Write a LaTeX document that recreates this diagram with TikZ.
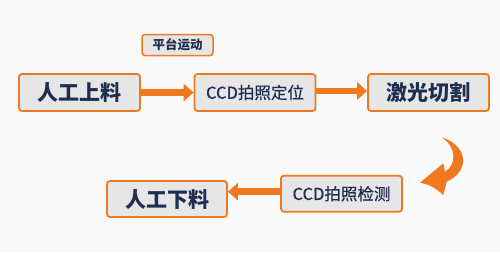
\documentclass[tikz,border=0pt]{standalone}
\usepackage{fontspec}
\newfontfamily\cjk{Noto Sans CJK SC}
\newfontfamily\cjkmid[FakeBold=0.5]{Noto Sans CJK SC}
\usetikzlibrary{arrows.meta}
\definecolor{bgc}{RGB}{249,249,249}
\definecolor{boxfill}{RGB}{231,230,230}
\definecolor{orng}{RGB}{240,120,32}
\definecolor{navy}{RGB}{31,45,80}
\tikzset{
  box/.style={draw=orng, line width=1.8pt, fill=boxfill, rounded corners=3pt,
    inner sep=0pt, text=navy, font=\cjk},
  bigbox/.style={box, minimum width=121pt, minimum height=37pt, font=\cjk\bfseries\fontsize{21}{21}\selectfont},
  midbox/.style={box, minimum width=121pt, minimum height=37pt, font=\cjkmid\fontsize{16.5}{16.5}\selectfont},
  smallbox/.style={box, line width=1.5pt, minimum width=71pt, minimum height=21pt, font=\cjk\bfseries\fontsize{12.5}{12.5}\selectfont},
  fatarrow/.style={draw=orng, line width=6.5pt, -{Triangle[length=10pt,width=17pt]}}
}
\begin{document}
\begin{tikzpicture}[x=1pt,y=-1pt]
\fill[bgc] (0,0) rectangle (500,252);
\useasboundingbox (0,0) rectangle (500,252);
\node[bigbox] (a) at (79.5,92.5) {人工上料};
\node[midbox] (b) at (255,92.5) {CCD拍照定位};
\node[bigbox] (c) at (428.5,92.5) {激光切割};
\node[midbox, minimum height=36pt] (d) at (341.5,193.7) {CCD拍照检测};
\node[bigbox, minimum width=120pt, minimum height=36pt] (e) at (167,199) {人工下料};
\node[smallbox] (f) at (177.5,45) {平台运动};
\draw[fatarrow] (a.east) -- (b.west);
\draw[fatarrow] ([yshift=1.5pt]b.east) -- ([yshift=1.5pt]c.west);
\draw[fatarrow] ([yshift=2pt]d.west) -- ([yshift=2pt]d.west -| e.east);
\fill[orng] (420,182.7) -- (443.3,163.3) -- (445,171.7)
  .. controls (456.7,165) and (456.7,146.7) .. (441.7,137.3)
  .. controls (466.7,145) and (471.7,170) .. (446.7,181.7)
  -- (443.3,195) .. controls (436,188) and (428,184) .. (420,182.7) -- cycle;
\end{tikzpicture}
\end{document}
